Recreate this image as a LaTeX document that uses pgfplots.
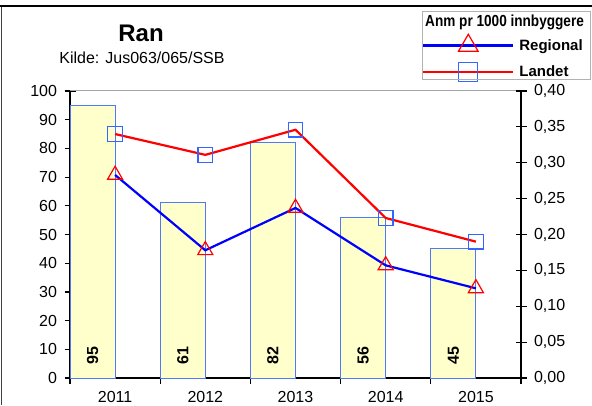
\documentclass[border=0pt]{standalone}
\usepackage{pgfplots}
\pgfplotsset{compat=1.18}
\usepackage{fontspec}
\setmainfont{Liberation Sans}
\usepackage{graphicx}
\definecolor{barfill}{RGB}{255,255,204}
\definecolor{baredge}{RGB}{80,120,250}
\definecolor{sqblue}{RGB}{51,102,255}
\begin{document}
\begin{tikzpicture}[x=1pt,y=1pt]
\useasboundingbox (0,0) rectangle (592,405);
% frame
\draw[line width=2.5pt] (0,399) -- (592,399);
\draw[line width=1.5pt, black!75] (1.5,0) -- (1.5,398);
\node[font=\bfseries\fontsize{24}{28}\selectfont] at (141,372) {Ran};
\node[font=\fontsize{16}{19}\selectfont] at (142,347) {Kilde: Jus063/065/SSB};
\begin{axis}[
  at={(70pt,27pt)}, anchor=south west,
  scale only axis, width=451pt, height=287pt,
  xmin=0, xmax=5, ymin=0, ymax=100,
  axis x line*=bottom, axis y line*=left,
  axis line style={line width=1.2pt, -},
  xtick={0,1,2,3,4,5}, xticklabels={},
  extra x ticks={0.5,1.5,2.5,3.5,4.5},
  extra x tick labels={2011,2012,2013,2014,2015},
  extra x tick style={major tick length=0pt},
  ytick={0,10,20,30,40,50,60,70,80,90,100},
  tick align=center, major tick length=11pt,
  tick style={line width=1.2pt, black},
  ticklabel style={font=\fontsize{16}{19}\selectfont},
  yticklabel style={xshift=-4pt},
  xticklabel style={yshift=-10pt},
  /pgf/number format/assume math mode=true,
  clip=false,
]
\addplot[ybar, bar width=0.5, fill=barfill, draw=baredge, line width=1pt]
  coordinates {(0.25,95)(1.25,61)(2.25,82)(3.25,56)(4.25,45)};
\addplot[draw=none, nodes near coords, point meta=explicit symbolic,
  every node near coord/.style={rotate=90, anchor=west, inner sep=0pt,
  font=\bfseries\fontsize{16}{19}\selectfont}]
  coordinates {(0.25,4.5)[95] (1.25,4.5)[61] (2.25,4.5)[82] (3.25,4.5)[56] (4.25,4.5)[45]};
\draw[gray!70, line width=1pt] (rel axis cs:0,1) -- (rel axis cs:1,1);
\end{axis}
\begin{axis}[
  at={(70pt,27pt)}, anchor=south west,
  scale only axis, width=451pt, height=287pt,
  xmin=0, xmax=5, ymin=0, ymax=0.4,
  axis x line=none, axis y line*=right,
  axis line style={line width=1.2pt, -},
  ytick={0,0.05,0.1,0.15,0.2,0.25,0.3,0.35,0.4},
  tick align=center, major tick length=11pt,
  tick style={line width=1.2pt, black},
  ticklabel style={font=\fontsize{16}{19}\selectfont},
  yticklabel style={xshift=4pt, /pgf/number format/.cd, fixed, fixed zerofill, precision=2, use comma},
  /pgf/number format/assume math mode=true,
  clip=false,
  legend image code/.code={\draw[mark repeat=2,mark phase=2,#1] plot coordinates {(0pt,0pt)(45pt,0pt)(90pt,0pt)};},
  legend image post style={/tikz/every mark/.append style={scale=1.3, fill=white}},
  legend cell align=left,
  legend style={draw=none, fill=none, at={(axis description cs:0.7805,1.115)}, anchor=west,
    inner sep=0pt, row sep=11pt, column sep=5pt,
    nodes={inner sep=0pt}, font=\bfseries\fontsize{15}{17}\selectfont},
]
\addplot[color=blue, line width=2.2pt, mark=triangle, mark size=8.7pt,
  mark options={draw=red, fill=white, line width=1.2pt, solid}]
  coordinates {(0.5,0.283)(1.5,0.178)(2.5,0.237)(3.5,0.157)(4.5,0.125)};
\addlegendentry{Regional}
\addplot[color=red, line width=2.2pt, mark=square, mark size=7.3pt,
  mark options={draw=sqblue, fill=white, line width=1.2pt, solid}]
  coordinates {(0.5,0.340)(1.5,0.311)(2.5,0.346)(3.5,0.223)(4.5,0.190)};
\addlegendentry{Landet}
\end{axis}
\draw[gray!60, line width=1pt] (422,393) rectangle (590,325);
\node[font=\bfseries\fontsize{16}{18}\selectfont, anchor=west, inner sep=0pt] at (425,383) {\scalebox{0.85}[1]{Anm pr 1000 innbyggere}};
\end{tikzpicture}
\end{document}
